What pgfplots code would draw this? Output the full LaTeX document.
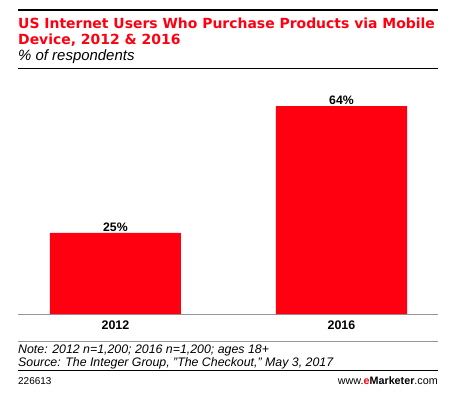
\documentclass[border=0pt]{standalone}
\usepackage{pgfplots}
\pgfplotsset{compat=1.18}
\usepackage{fontspec}
\setmainfont{Liberation Sans}
\newfontfamily\titlefont{DejaVu Sans}
\definecolor{emred}{RGB}{255,0,17}
\definecolor{axgray}{RGB}{150,150,150}
\begin{document}
\begin{tikzpicture}[x=1bp,y=1bp]
\path[use as bounding box] (0,0) rectangle (452,397);
\draw[line width=2bp] (18,387) -- (438,387);
\node[anchor=base west, inner sep=0, text=emred, font=\titlefont\bfseries\fontsize{14}{17}\selectfont] at (18,368.7) {US Internet Users Who Purchase Products via Mobile};
\node[anchor=base west, inner sep=0, text=emred, font=\titlefont\bfseries\fontsize{14}{17}\selectfont] at (18,352.7) {Device, 2012 \& 2016};
\node[anchor=base west, inner sep=0, font=\itshape\fontsize{15}{18}\selectfont] at (18,337) {\% of respondents};
\draw[line width=0.7bp] (18,328.7) -- (438,328.7);
\begin{axis}[
  at={(18bp,83bp)}, anchor=south west, scale only axis,
  width=420bp, height=234bp,
  xmin=-0.431, xmax=1.427, ymin=0, ymax=72,
  ybar, bar width=0.58,
  axis x line=bottom, axis y line=none,
  x axis line style={axgray, line width=1bp, -},
  xtick={0,1}, xticklabels={2012,2016}, major tick length=0,
  xticklabel style={font=\bfseries\fontsize{12.5}{15}\selectfont, anchor=base, inner sep=0, yshift=-15.3bp},
  /pgf/number format/assume math mode=true,
  nodes near coords={\pgfmathprintnumber[assume math mode=true]{\pgfplotspointmeta}\%},
  every node near coord/.append style={font=\bfseries\fontsize{12.3}{15}\selectfont, anchor=base, inner sep=0, yshift=1.5bp, text=black},
  clip=false,
]
\addplot[fill=emred, draw=none] coordinates {(0,25) (1,64)};
\end{axis}
\draw[axgray, line width=1bp] (18,56) -- (438,56);
\node[anchor=base west, inner sep=0, font=\itshape\fontsize{12.4}{15}\selectfont] at (18,43.7) {Note: 2012 n=1,200; 2016 n=1,200; ages 18+};
\node[anchor=base west, inner sep=0, font=\itshape\fontsize{12.4}{15}\selectfont] at (18,31) {Source: The Integer Group, "The Checkout," May 3, 2017};
\draw[line width=1.5bp] (18,26.3) -- (438,26.3);
\node[anchor=base west, inner sep=0, font=\fontsize{10}{12}\selectfont] at (18,13) {226613};
\node[anchor=base east, inner sep=0, font=\fontsize{10.8}{12}\selectfont] at (438,13) {www.\textcolor{emred}{\bfseries e}\textbf{Marketer}.com};
\end{tikzpicture}
\end{document}
